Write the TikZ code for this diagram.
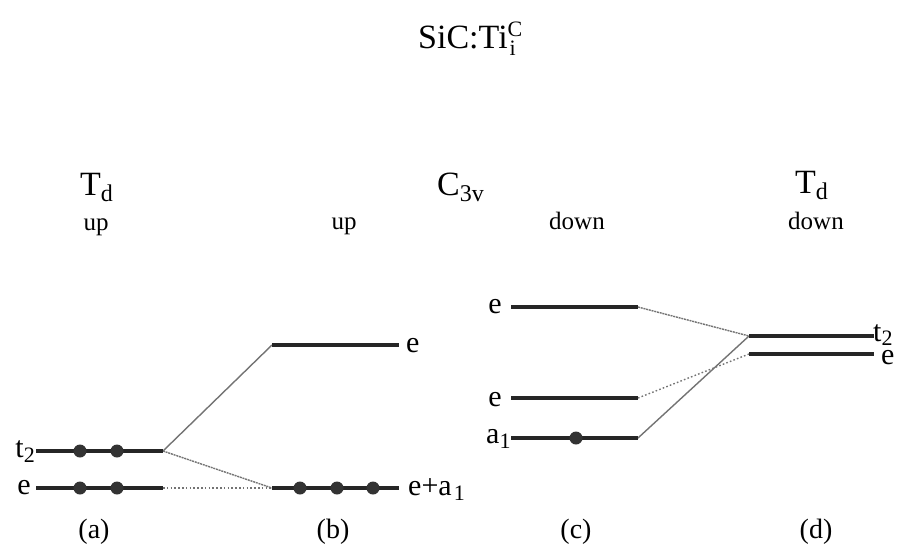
\documentclass[tikz,border=0pt]{standalone}
\usepackage{fontspec}
\setmainfont{Liberation Serif}
\newcommand\lowsub[3]{\raisebox{#1}{\fontsize{#2}{#2}\selectfont #3}}
\begin{document}
\begin{tikzpicture}[x=1pt,y=-1pt,
  level/.style={line width=4pt,color=black!85},
  link/.style={line width=1.4pt,color=black!55},
  hatch/.style={link,dash pattern=on 2pt off 0.8pt},
  dots/.style={link,dash pattern=on 1.6pt off 2.2pt},
  elec/.style={circle,fill=black!80,minimum size=13pt,inner sep=0pt},
  lab/.style={inner sep=0pt,font=\fontsize{30}{32}\selectfont},
  head/.style={inner sep=0pt,font=\fontsize{34}{38}\selectfont},
  spin/.style={inner sep=0pt,font=\fontsize{25}{28}\selectfont},
  tag/.style={inner sep=0pt,font=\fontsize{28}{30}\selectfont}]
\useasboundingbox (0,0) rectangle (900,547);
% title
\node[head,anchor=base west] (title) at (418,48) {SiC:Ti\rlap{\raisebox{12pt}{\fontsize{22}{22}\selectfont C}}\raisebox{-7pt}{\fontsize{22}{22}\selectfont\kern2pt i}};
% headers
\node[head,anchor=base west] (hTa) at (80,195) {T\lowsub{-6pt}{24}{d}};
\node[spin,anchor=base] (upa) at (96,230) {up};
\node[head,anchor=base west] (hC) at (437,195) {C\lowsub{-6pt}{24}{3v}};
\node[spin,anchor=base] (upb) at (344,229) {up};
\node[spin,anchor=base] (dnc) at (577,229) {down};
\node[head,anchor=base west] (hTd) at (795,193) {T\lowsub{-6pt}{24}{d}};
\node[spin,anchor=base] (dnd) at (816,229) {down};
% level end points
\coordinate (at1) at (36,451);  \coordinate (at2) at (163,451);
\coordinate (ae1) at (36,488);  \coordinate (ae2) at (163,488);
\coordinate (be1) at (272,345); \coordinate (be2) at (399,345);
\coordinate (bx1) at (272,488); \coordinate (bx2) at (399,488);
\coordinate (ce1) at (511,307); \coordinate (ce2) at (638,307);
\coordinate (cm1) at (511,398); \coordinate (cm2) at (638,398);
\coordinate (ca1) at (511,438); \coordinate (ca2) at (638,438);
\coordinate (dt1) at (749,336); \coordinate (dt2) at (874,336);
\coordinate (de1) at (749,354); \coordinate (de2) at (874,354);
% connectors
\draw[link] (at2) -- (be1);
\draw[hatch] (at2) -- (bx1);
\draw[dots] (ae2) -- (bx1);
\draw[hatch] (ce2) -- (dt1);
\draw[dots] (cm2) -- (de1);
\draw[link] (ca2) -- (dt1);
% levels
\draw[level] (at1) -- (at2);
\draw[level] (ae1) -- (ae2);
\draw[level] (be1) -- (be2);
\draw[level] (bx1) -- (bx2);
\draw[level] (ce1) -- (ce2);
\draw[level] (cm1) -- (cm2);
\draw[level] (ca1) -- (ca2);
\draw[level] (dt1) -- (dt2);
\draw[level] (de1) -- (de2);
% electrons
\node[elec] (ea1) at (80,451) {};
\node[elec] (ea2) at (117,451) {};
\node[elec] (ea3) at (80,488) {};
\node[elec] (ea4) at (117,488) {};
\node[elec] (eb1) at (300,488) {};
\node[elec] (eb2) at (337,488) {};
\node[elec] (eb3) at (373,488) {};
\node[elec] (ec1) at (576,438) {};
% level labels
\node[lab,anchor=base east] (lat) at (35,457) {t\lowsub{-5pt}{22}{2}};
\node[lab,anchor=base east] (lae) at (31,494) {e};
\node[lab,anchor=base west] (lbe) at (406,352) {e};
\node[lab,anchor=base west] (lbx) at (408,495) {e+a\lowsub{-5pt}{22}{\kern2pt 1}};
\node[lab,anchor=base east] (lce) at (502,313) {e};
\node[lab,anchor=base east] (lcm) at (502,406) {e};
\node[lab,anchor=base west] (lca) at (486,443) {a\lowsub{-5pt}{22}{1}};
\node[lab,anchor=base west] (ldt) at (873,341) {t\lowsub{-4pt}{22}{2}};
\node[lab,anchor=base west] (lde) at (881,364) {e};
% panel tags
\node[tag,anchor=base] (ta) at (94,538) {(a)};
\node[tag,anchor=base] (tb) at (333,538) {(b)};
\node[tag,anchor=base] (tc) at (576,538) {(c)};
\node[tag,anchor=base] (td) at (816,538) {(d)};
\end{tikzpicture}
\end{document}
